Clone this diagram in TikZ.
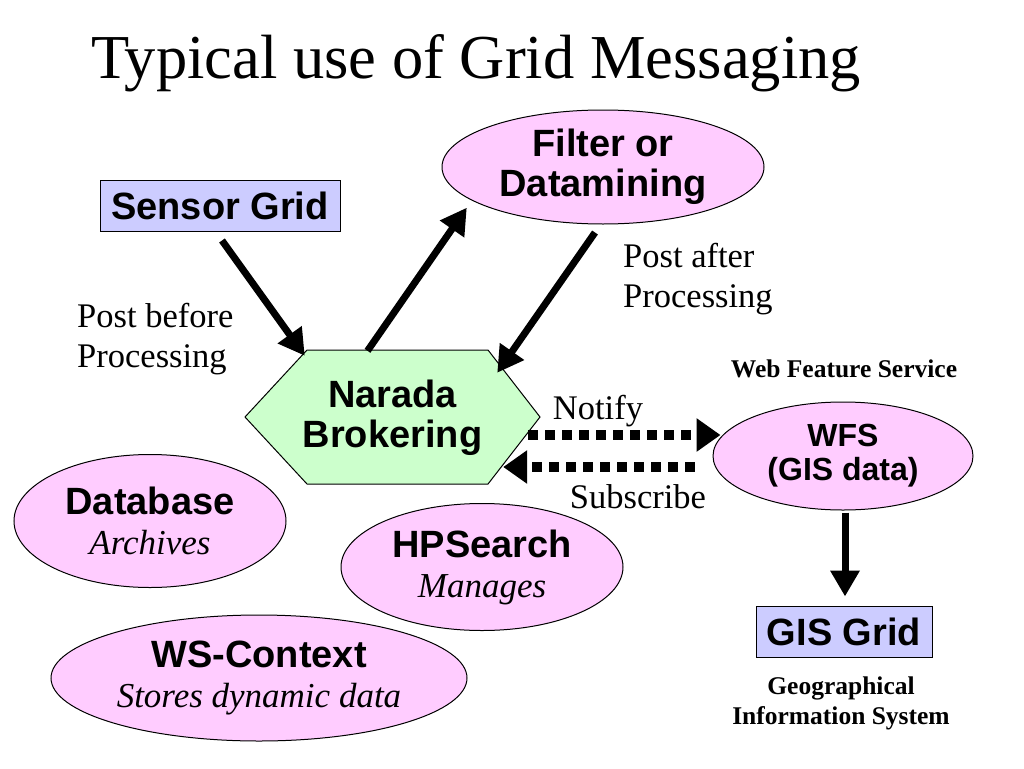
\documentclass[tikz,border=0pt]{standalone}
\usepackage{fontspec}
\setmainfont{Liberation Serif}
\setsansfont{Liberation Sans}
\usetikzlibrary{arrows.meta,shapes.geometric,calc}
\definecolor{pinkfill}{RGB}{255,204,255}
\definecolor{bluefill}{RGB}{204,204,255}
\definecolor{greenfill}{RGB}{204,255,204}
\tikzset{
  bigsans/.style={font=\fontsize{38}{40}\selectfont\sffamily\bfseries, align=center},
  midsans/.style={font=\fontsize{32}{34}\selectfont\sffamily\bfseries, align=center},
  serif/.style={font=\fontsize{34.5}{40}\selectfont\rmfamily},
  smallbold/.style={font=\fontsize{25.5}{30}\selectfont\rmfamily\bfseries, align=center},
  pinkell/.style={ellipse, draw=black, line width=1, fill=pinkfill, inner sep=0pt},
  bluebox/.style={rectangle, draw=black, line width=1, fill=bluefill, inner sep=0pt},
  fatarrow/.style={line width=7, -{Triangle[length=26,width=28]}},
  dotarrow/.style={line width=10, dash pattern=on 10 off 7, -{Triangle[length=24,width=32]}},
}
\newcommand{\itl}[1]{{\normalfont\rmfamily\itshape\fontsize{35}{40}\selectfont #1}}
\begin{document}
\begin{tikzpicture}[x=1pt,y=-1pt]
\useasboundingbox (0,0) rectangle (1024,768);

% title
\node[anchor=base, font=\fontsize{62.5}{70}\selectfont\rmfamily, inner sep=0] (title) at (476,78) {Typical use of Grid Messaging};

% hexagon
\draw[line width=1, fill=greenfill] (245,417) -- (307,350) -- (488,350) -- (540,417) -- (488,484) -- (307,484) -- cycle;
\node[bigsans, minimum width=295, minimum height=134, inner sep=0] (narada) at (392.5,418) {Narada\\Brokering};

% boxes
\node[bluebox, bigsans, minimum width=240, minimum height=51] (sensor) at (220,205.5) {Sensor Grid};
\node[bluebox, bigsans, minimum width=176, minimum height=51] (gis) at (844,631.5) {GIS Grid};

% ellipses
\node[pinkell, bigsans, minimum width=322, minimum height=114] (filter) at (603,167) {Filter or\\Datamining};
\node[pinkell, midsans, minimum width=260, minimum height=108] (wfs) at (843,456) {WFS\\(GIS data)};
\node[pinkell, bigsans, minimum width=272, minimum height=133] (db) at (150,521) {Database\\\itl{Archives}};
\node[pinkell, bigsans, minimum width=282, minimum height=127] (hps) at (482,567) {HPSearch\\\itl{Manages}};
\node[pinkell, bigsans, minimum width=416, minimum height=126] (wsc) at (259,678) {WS-Context\\\itl{Stores dynamic data}};

% labels
\node[serif, anchor=west, align=left, inner sep=0] (postbefore) at (77,339) {Post before\\Processing};
\node[serif, anchor=west, align=left, inner sep=0] (postafter) at (623,279) {Post after\\Processing};
\node[serif, inner sep=0] (notify) at (598,411) {Notify};
\node[serif, inner sep=0] (subscribe) at (638,497) {Subscribe};
\node[smallbold, inner sep=0] (wfslbl) at (844,369) {Web Feature Service};
\node[smallbold, inner sep=0] (gislbl) at (841,703) {Geographical\\Information System};

% connectors
\draw[fatarrow] ([shift={(2,9)}]sensor.south) -- ([shift={(60,5)}]narada.north west);
\draw[fatarrow] ([shift={(-25,0)}]narada.north) -- ([xshift=-22]filter.south west);
\draw[fatarrow] ([shift={(-8,8)}]filter.south) -- ([shift={(-43,22)}]narada.north east);
\draw[dotarrow] ([shift={(-12,17)}]narada.east) -- ([shift={(8,-21)}]wfs.west);
\draw[dotarrow] ([shift={(-18,11)}]wfs.west) -- ([shift={(-37,49)}]narada.east);
\draw[fatarrow] ([shift={(2,2)}]wfs.south) -- ([shift={(1,-9)}]gis.north);
\end{tikzpicture}
\end{document}
